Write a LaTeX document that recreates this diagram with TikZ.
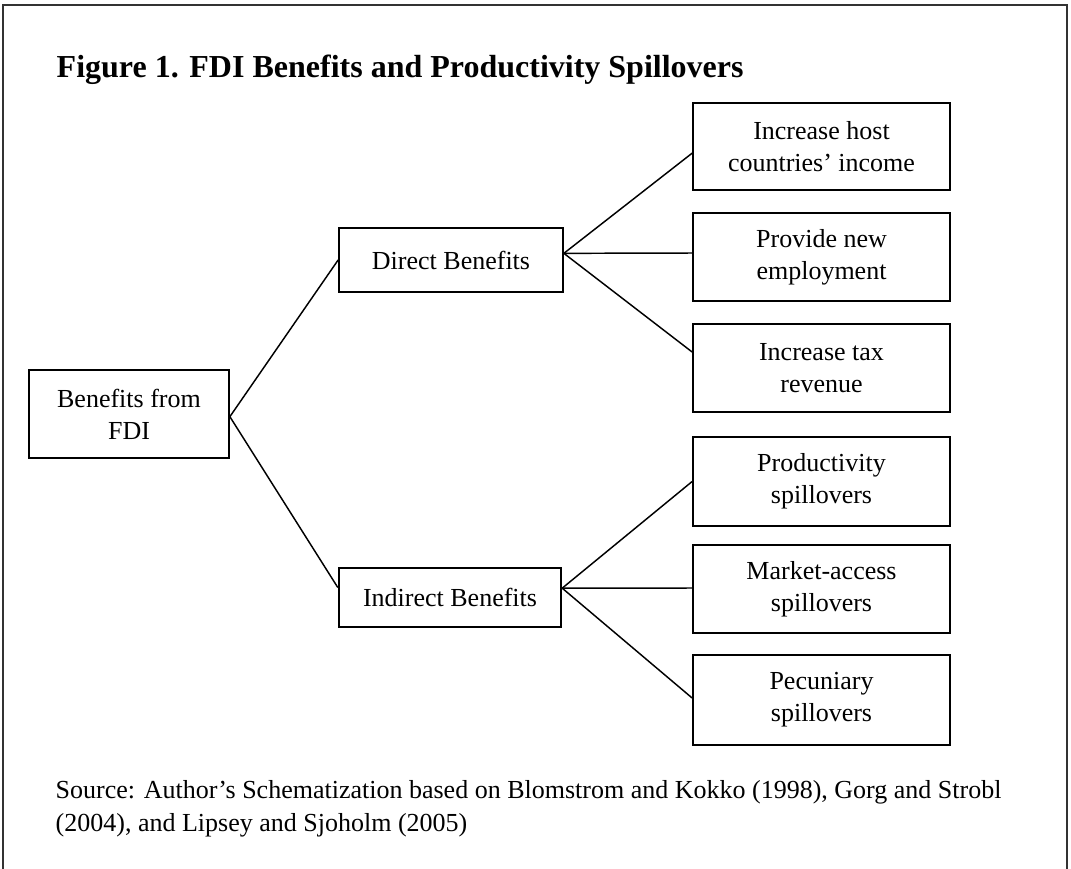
\documentclass[tikz,border=0pt]{standalone}
\usepackage{fontspec}
\setmainfont{Liberation Serif}
\begin{document}
\begin{tikzpicture}[x=0.75pt,y=-0.75pt,
  box/.style={draw, line width=1.3pt, rectangle, align=center, inner sep=0pt,
    font=\fontsize{19.5}{24}\selectfont},
  link/.style={line width=1.1pt},
  frame/.style={draw=black!80, line width=1.5pt}]
\useasboundingbox (0,0) rectangle (1071,868);
\draw[frame] (3,870) -- (3,5) -- (1067,5) -- (1067,870);

\node[anchor=base west, font=\fontsize{24}{28}\selectfont\bfseries] (title) at (52,77)
  {Figure 1. FDI Benefits and Productivity Spillovers};

\node[box, minimum width=150pt, minimum height=66pt] (root) at (129,414) {Benefits from\\FDI};
\node[box, minimum width=168pt, minimum height=48pt] (direct) at (451,260) {Direct Benefits};
\node[box, minimum width=167pt, minimum height=44.5pt] (indirect) at (450,597.5) {Indirect Benefits};

\node[box, minimum width=192.75pt, minimum height=65.25pt] (r1) at (821.5,146.5) {Increase host\\countries’ income};
\node[box, minimum width=192.75pt, minimum height=66pt] (r2) at (821.5,257) {Provide new\\employment};
\node[box, minimum width=192.75pt, minimum height=66pt] (r3) at (821.5,368) {Increase tax\\revenue};
\node[box, minimum width=192.75pt, minimum height=66.75pt] (r4) at (821.5,481.5) {Productivity\\spillovers};
\node[box, minimum width=192.75pt, minimum height=66pt] (r5) at (821.5,589) {Market-access\\spillovers};
\node[box, minimum width=192.75pt, minimum height=67.5pt] (r6) at (821.5,700) {Pecuniary\\spillovers};

\draw[link] ([yshift=-2pt]root.east) -- (direct.west);
\draw[link] ([yshift=-2pt]root.east) -- ([yshift=7.5pt]indirect.west);

\draw[link] ([yshift=5pt]direct.east) -- ([yshift=-5pt]r1.west);
\draw[link] ([yshift=5pt]direct.east) -- ([yshift=3pt]r2.west);
\draw[link] ([yshift=5pt]direct.east) -- ([yshift=12pt]r3.west);

\draw[link] ([yshift=7pt]indirect.east) -- (r4.west);
\draw[link] ([yshift=7pt]indirect.east) -- ([yshift=0.75pt]r5.west);
\draw[link] ([yshift=7pt]indirect.east) -- ([yshift=1.5pt]r6.west);

\node[anchor=north west, align=left, font=\fontsize{19.5}{24.75}\selectfont] (src) at (51,776)
  {Source: Author’s Schematization based on Blomstrom and Kokko (1998), Gorg and Strobl\\(2004), and Lipsey and Sjoholm (2005)};
\end{tikzpicture}
\end{document}
